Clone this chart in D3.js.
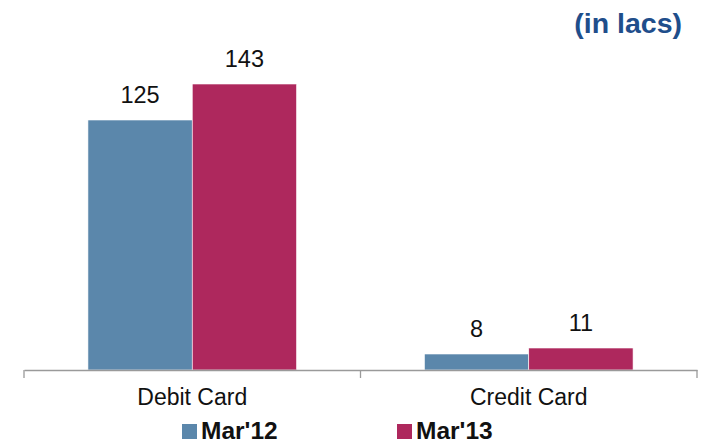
<!DOCTYPE html>
<html>
<head>
<meta charset="utf-8">
<script src="https://cdn.jsdelivr.net/npm/d3@7"></script>
<style>
  body { margin: 0; background: #fff; }
  svg { display: block; font-family: "Liberation Sans", Arial, sans-serif; }
</style>
</head>
<body>
<div class="chart"></div>
<script>
var categories = ["Debit Card", "Credit Card"];
var seriesNames = ["Mar'12", "Mar'13"];
var mar12 = [125, 8];
var mar13 = [143, 11];
var colors = ["#5B87AB", "#AE285D"];

var w = 706, h = 445;
var svg = d3.select("div.chart").append("svg")
    .attr("width", w)
    .attr("height", h);

var x = d3.scaleBand().domain(categories).range([24, 697]);
var xs = d3.scaleBand().domain(seriesNames).range([0, x.bandwidth() * 0.62]);
var y = d3.scaleLinear().domain([0, 175]).range([370, 20]);

var rows = categories.map(function(c, i) {
  return { cat: c, vals: [mar12[i], mar13[i]] };
});

var groups = svg.selectAll("g.grp")
    .data(rows)
    .enter().append("g")
    .attr("class", "grp")
    .attr("transform", function(d) {
      return "translate(" + (x(d.cat) + x.bandwidth() * 0.19) + ",0)";
    });

groups.selectAll("rect")
    .data(function(d) { return d.vals.map(function(v, j) { return { s: seriesNames[j], v: v, j: j }; }); })
    .enter().append("rect")
    .attr("x", function(d) { return xs(d.s); })
    .attr("width", xs.bandwidth())
    .attr("y", function(d) { return y(d.v); })
    .attr("height", function(d) { return y(0) - y(d.v); })
    .attr("fill", function(d) { return colors[d.j]; })
    .attr("stroke", "#fff")
    .attr("stroke-width", 0.6);

//value labels over bars
groups.selectAll("text.val")
    .data(function(d) { return d.vals.map(function(v, j) { return { s: seriesNames[j], v: v }; }); })
    .enter().append("text")
    .attr("class", "val")
    .attr("x", function(d) { return xs(d.s) + xs.bandwidth() / 2; })
    .attr("y", function(d) { return y(d.v) - 17; })
    .attr("text-anchor", "middle")
    .attr("font-size", 23.5)
    .attr("fill", "#111")
    .text(function(d) { return d.v; });

// x axis
var axis = svg.append("g").attr("transform", "translate(0," + y(0) + ")")
    .call(d3.axisBottom(x).tickSize(0).tickPadding(19));
axis.select(".domain").attr("stroke", "#9a9a9a").attr("stroke-width", 1.3);
axis.selectAll("text").attr("font-size", 23).attr("fill", "#111")
    .attr("font-family", "Liberation Sans, Arial, sans-serif");

// tick marks at category boundaries
var bounds = [x.range()[0]].concat(categories.map(function(c) { return x(c) + x.bandwidth(); }));
axis.selectAll("line.bound")
    .data(bounds)
    .enter().append("line")
    .attr("class", "bound")
    .attr("x1", function(d) { return d; })
    .attr("x2", function(d) { return d; })
    .attr("y1", 0)
    .attr("y2", 8)
    .attr("stroke", "#9a9a9a")
    .attr("stroke-width", 1.3);

// legend
var legX = [182, 397];
var leg = svg.selectAll("g.leg")
    .data(seriesNames)
    .enter().append("g")
    .attr("class", "leg")
    .attr("transform", function(d, i) { return "translate(" + legX[i] + ",0)"; });
leg.append("rect")
    .attr("x", 0).attr("y", 424)
    .attr("width", 15).attr("height", 15)
    .attr("fill", function(d, i) { return colors[i]; });
leg.append("text")
    .attr("x", 19).attr("y", 439)
    .attr("font-size", 24.5)
    .attr("font-weight", "bold")
    .attr("fill", "#111")
    .text(function(d) { return d; });

// unit note
svg.append("text")
    .attr("x", 682).attr("y", 33)
    .attr("text-anchor", "end")
    .attr("font-size", 28.5)
    .attr("font-weight", "bold")
    .attr("fill", "#1F4E8B")
    .text("(in lacs)");
</script>
</body>
</html>
